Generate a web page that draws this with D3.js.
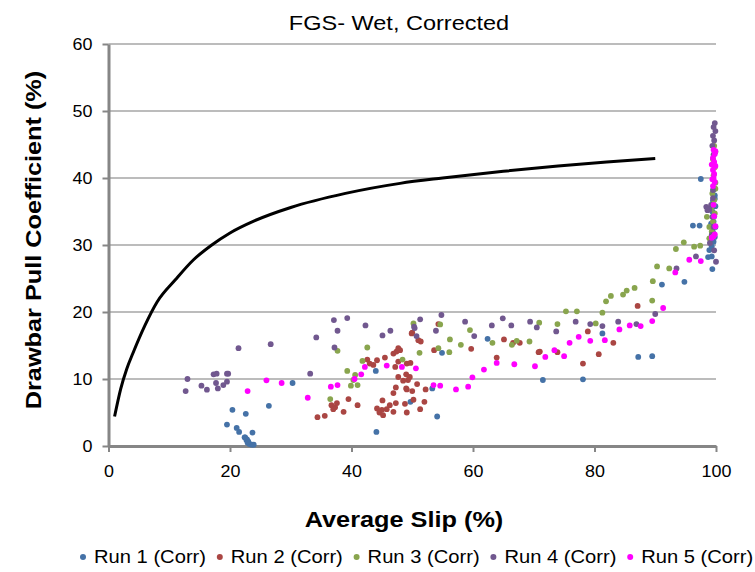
<!DOCTYPE html>
<html>
<head>
<meta charset="utf-8">
<script src="https://cdn.jsdelivr.net/npm/d3@7/dist/d3.min.js"></script>
<style>
  body { margin: 0; background: #fff; }
  svg { font-family: "Liberation Sans", Arial, sans-serif; }
</style>
</head>
<body>
<svg width="755" height="572"></svg>
<script>
// series: [average slip %, drawbar pull %]
var run1 = [[30.3,9.4],[26.4,6.0],[20.4,5.4],[22.6,4.8],[19.5,3.2],[21.1,2.7],[21.5,2.1],[22.5,1.3],[22.7,0.9],[23.7,2.0],
  [22.4,1.3],[22.8,1.0],[23.0,0.7],[23.2,0.3],[23.6,0.2],[22.9,0.5],[23.9,0.2],[44.0,11.2],[49.7,6.6],[44.1,2.1],
  [62.4,16.0],[54.9,13.9],[53.3,8.6],[54.1,4.4],[71.5,9.85],[78.1,9.95],[81.3,16.8],[87.2,13.3],[89.5,13.4],[91.1,24.1],
  [94.8,24.5],[97.5,39.85],[96.2,32.9],[97.3,32.9],[99.4,26.4],[98.7,28.2],[98.9,29.25],[99.3,28.3],
  [99.6,38.3],[99.8,37.4],[99.5,36.6],[99.9,35.8],[99.4,35.0],[99.7,34.3],[99.6,33.5],[99.9,32.7],[99.5,31.9],
  [99.8,31.2],[99.6,30.5],[99.3,29.8],[99.8,36.9],[99.2,33.2]];

var run2 = [[42.6,12.9],[44.2,12.8],[43.6,12.1],[43.0,12.3],[45.5,13.2],[46.9,13.8],[47.4,14.1],[48.0,14.3],[47.7,14.6],
  [47.2,11.8],[47.7,12.6],[49.1,12.3],[49.7,12.4],[47.7,10.3],[48.5,9.75],[49.3,9.85],[47.3,8.75],[49.1,8.45],[46.9,7.9],
  [45.1,6.8],[44.2,5.6],[45.0,5.4],[45.8,5.5],[46.3,6.1],[46.9,5.1],[47.3,6.4],[49.1,5.0],[44.6,5.0],[45.2,4.6],
  [39.5,7.0],[41.0,6.1],[36.7,6.1],[37.3,5.8],[37.6,6.4],[37.0,5.5],[38.7,5.1],[35.6,4.5],[34.4,4.3],[49.9,16.8],
  [51.0,15.8],[54.3,18.2],[50.0,16.9],[51.4,15.6],[53.6,14.3],[59.7,14.5],[65.1,15.9],[66.6,15.4],[67.7,15.4],[70.8,14.0],
  [63.9,13.2],[50.8,9.25],[52.2,8.45],[50.0,8.2],[49.0,8.6],[50.2,6.9],[52.0,6.6],[48.8,6.3],[51.3,5.5],[49.0,10.7],
  [49.6,10.3],[71.0,14.1],[73.9,14.0],[78.9,17.1],[78.1,12.3],[80.7,13.7],[83.1,15.4],[87.1,20.9]];

var run3 = [[37.7,14.2],[42.6,14.7],[41.8,12.7],[39.3,11.2],[40.6,10.6],[40.3,9.85],[39.9,9.0],[41.0,9.1],[36.5,7.0],
  [50.2,18.3],[48.4,12.9],[51.2,13.9],[54.6,18.15],[59.5,17.3],[56.2,15.9],[58.0,15.1],[54.3,14.6],[56.1,14.0],[63.2,15.4],
  [66.4,15.1],[67.2,15.7],[69.3,15.6],[70.9,18.4],[73.9,18.2],[75.3,20.1],[77.1,20.1],[80.2,18.3],[81.3,19.9],[81.9,21.6],
  [82.7,22.4],[84.7,22.6],[85.3,23.2],[86.6,23.6],[89.5,21.7],[89.6,24.6],[90.3,26.8],[92.3,26.5],[93.4,29.4],[94.7,30.4],
  [96.4,29.75],[97.4,29.9],[99.7,44.8],[99.9,43.9],[99.5,42.8],[99.8,41.6],[99.6,40.4],[99.9,39.3],[99.4,37.7],[99.7,36.7],
  [99.2,35.4],[99.8,34.7],[99.5,33.5],[99.3,32.0],[99.9,38.4],[98.9,31.0],[98.5,34.2],[98.9,32.7]];

var run4 = [[21.4,14.6],[26.7,15.2],[13.0,10.0],[12.7,8.2],[15.3,9.0],[16.2,8.4],[17.3,10.7],[17.8,10.8],[17.7,9.4],
  [18.0,8.6],[18.9,9.1],[19.5,10.8],[19.7,10.8],[19.5,9.6],[37.1,18.8],[39.3,19.1],[42.3,18.0],[37.7,17.2],[34.2,16.2],
  [37.2,14.7],[45.1,16.5],[46.4,17.2],[33.2,10.8],[50.3,17.8],[54.8,19.55],[51.3,18.9],[50.4,17.6],[50.7,16.4],[53.9,17.2],
  [58.7,18.55],[60.2,16.4],[63.1,18.0],[64.9,19.05],[66.3,18.0],[69.4,18.55],[70.5,17.7],[73.7,17.1],[76.9,18.55],
  [79.3,18.2],[81.3,17.9],[83.9,18.55],[86.9,18.2],[90.0,19.7],[93.5,26.5],[96.7,28.3],
  [99.8,48.2],[99.6,47.6],[99.9,47.0],[99.5,46.3],[99.7,45.6],[99.4,44.8],[99.6,43.5],[99.5,38.2],[99.2,36.0],[98.9,35.3],
  [99.4,34.2],[99.6,32.7],[99.3,31.5],[99.0,30.3],[99.7,29.2],[100,27.5],[99.5,37.0],[98.4,35.7],[98.6,35.2]];

var run5 = [[22.9,8.2],[26.0,9.8],[28.5,9.4],[42.2,11.8],[41.6,10.7],[40.5,10.0],[37.7,9.1],[36.6,8.85],[32.8,7.2],
  [45.8,12.0],[48.3,11.8],[50.6,11.6],[53.5,9.1],[54.6,9.0],[57.2,8.45],[59.2,8.85],[59.9,10.25],[61.8,11.4],[63.9,12.4],
  [66.8,12.2],[70.2,11.9],[71.9,13.3],[73.4,14.3],[75.0,13.4],[75.9,15.4],[77.4,16.3],[79.3,15.7],[81.7,15.8],[84.1,17.4],
  [85.8,18.0],[87.6,17.9],[89.5,18.65],[91.3,20.6],[93.3,25.9],[95.6,27.8],[97.5,27.6],
  [99.6,44.2],[99.8,43.6],[99.5,43.0],[99.7,42.4],[99.9,41.8],[99.5,41.2],[99.7,40.6],[99.6,40.0],[99.8,39.4],[99.5,38.8],
  [99.9,44.0],[99.3,42.0],[99.4,39.8],[99.6,36.0],[99.7,34.3],[99.9,32.8],[99.6,31.3],[99.3,31.1],[99.8,31.6]];

// black reference curve
var curveX = [1, 2, 3, 4, 6, 8, 11, 14, 17, 20, 24, 30, 39, 48, 55, 65, 74, 82, 90];
var curveY = [4.4, 8.5, 11.5, 13.8, 18, 21.5, 24.8, 27.8, 30, 31.8, 33.6, 35.6, 37.7, 39.2, 40, 41, 41.8, 42.4, 42.9];

var seriesNames = ["Run 1 (Corr)", "Run 2 (Corr)", "Run 3 (Corr)", "Run 4 (Corr)", "Run 5 (Corr)"];
var seriesColors = ["#4572A7", "#AA4643", "#89A54E", "#71588F", "#FF00FF"];
var xTicks = [0, 20, 40, 60, 80, 100];
var yTicks = [0, 10, 20, 30, 40, 50, 60];

var svg = d3.select("svg");
var stretch = "scale(1.12,1)";

var x = d3.scaleLinear().domain([0, 100]).range([108.5, 716]);
var y = d3.scaleLinear().domain([0, 60]).range([446, 44]);

// gridlines
svg.append("g").selectAll("line")
  .data(yTicks.filter(function(d) { return d > 0; }))
  .enter().append("line")
    .attr("x1", x(0)).attr("x2", x(100))
    .attr("y1", function(d) { return y(d); })
    .attr("y2", function(d) { return y(d); })
    .attr("stroke", "#a6a6a6")
    .attr("stroke-width", 1.5);

// axes
var gy = svg.append("g")
    .attr("transform", "translate(" + x(0) + ",0)")
    .call(d3.axisLeft(y).tickValues(yTicks).tickSize(6).tickSizeOuter(0));
var gx = svg.append("g")
    .attr("transform", "translate(0," + y(0) + ")")
    .call(d3.axisBottom(x).tickValues(xTicks).tickSize(6).tickSizeOuter(0));

[gx, gy].forEach(function(g) {
  g.select(".domain").attr("stroke", "#868686").attr("stroke-width", 3);
  g.selectAll(".tick line").attr("stroke", "#868686").attr("stroke-width", 2);
  g.selectAll(".tick text")
    .attr("fill", "#000")
    .style("font-size", "16px")
    .style("font-family", "'Liberation Sans', Arial, sans-serif");
});
gy.selectAll(".tick text").attr("x", 0).attr("transform", "translate(-16,0) " + stretch);
gx.selectAll(".tick text").attr("y", 0).attr("dy", 0).attr("transform", "translate(0,31) " + stretch);

// scatter series, run 1 first so run 5 ends up on top
[run1, run2, run3, run4, run5].forEach(function(run, i) {
  svg.append("g").selectAll("circle")
    .data(run)
    .enter().append("circle")
      .attr("cx", function(d) { return x(d[0]); })
      .attr("cy", function(d) { return y(d[1]); })
      .attr("r", 2.9)
      .attr("fill", seriesColors[i]);
});

var curveData = curveX.map(function(d, i) { return [d, curveY[i]]; });
svg.append("path")
  .datum(curveData)
  .attr("fill", "none")
  .attr("stroke", "#000")
  .attr("stroke-width", 3)
  .attr("d", d3.line()
    .x(function(d) { return x(d[0]); })
    .y(function(d) { return y(d[1]); })
    .curve(d3.curveMonotoneX));

// titles
svg.append("text")
  .attr("transform", "translate(399,30) " + stretch)
  .attr("text-anchor", "middle")
  .style("font-size", "21px")
  .text("FGS- Wet, Corrected");

svg.append("text")
  .attr("transform", "translate(404,527) scale(1.15,1)")
  .attr("text-anchor", "middle")
  .style("font-size", "22px")
  .style("font-weight", "bold")
  .text("Average Slip (%)");

svg.append("text")
  .attr("transform", "translate(41,240) rotate(-90) scale(1.15,1)")
  .attr("text-anchor", "middle")
  .style("font-size", "22px")
  .style("font-weight", "bold")
  .text("Drawbar Pull Coefficient  (%)");

// legend
var legend = svg.append("g").selectAll("g")
  .data(seriesNames)
  .enter().append("g")
    .attr("transform", function(d, i) { return "translate(" + (83 + i * 136.8) + ",557)"; });
legend.append("circle")
  .attr("r", 3)
  .attr("fill", function(d, i) { return seriesColors[i]; });
legend.append("text")
  .attr("transform", "translate(11,6) " + stretch)
  .style("font-size", "18px")
  .text(function(d) { return d; });
</script>
</body>
</html>
